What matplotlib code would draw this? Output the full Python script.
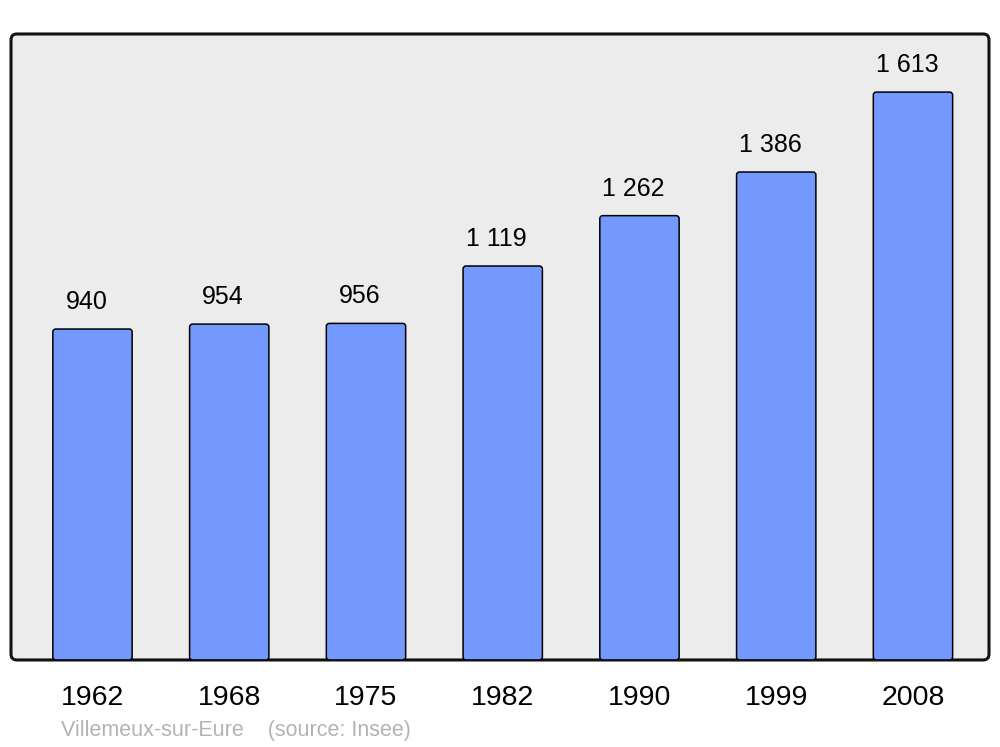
import matplotlib
matplotlib.use("Agg")
import matplotlib.pyplot as plt
from matplotlib.patches import FancyBboxPatch

years = ["1962", "1968", "1975", "1982", "1990", "1999", "2008"]
population = [940, 954, 956, 1119, 1262, 1386, 1613]
value_labels = ["940", "954", "956", "1 119", "1 262", "1 386", "1 613"]
caption = "Villemeux-sur-Eure    (source: Insee)"

plt.rcParams['font.family'] = ['Liberation Sans', 'DejaVu Sans']

fig = plt.figure(figsize=(10, 7.47), dpi=100)
ax = fig.add_axes([0.011, 0.1165, 0.978, 0.838])
ax.patch.set_visible(False)
for s in ax.spines.values():
    s.set_visible(False)

xs = list(range(len(years)))
XL, XR = -0.596, 6.556
ax.set_xlim(XL, XR)
ax.set_ylim(0, 1778)

frame = FancyBboxPatch((0, 0), 1, 1, boxstyle="round,pad=0,rounding_size=0.006",
                       mutation_aspect=978 / 626,
                       transform=ax.transAxes, facecolor='#ececec',
                       edgecolor='#111111', linewidth=2.2, zorder=0, clip_on=False)
ax.add_patch(frame)

bars = ax.bar(xs, population, width=0.58, color='#7399ff', edgecolor='black', linewidth=1.1)
# replace bars with rounded versions
px_x = 978 / (XR - XL)
px_y = 626 / 1778
r_px = 3.0
for b in bars:
    x0, y0, w, h = b.get_x(), b.get_y(), b.get_width(), b.get_height()
    b.set_visible(False)
    p = FancyBboxPatch((x0, y0), w, h,
                       boxstyle=f"round,pad=0,rounding_size={r_px / px_x}",
                       mutation_aspect=px_x / px_y,
                       facecolor='#7399ff', edgecolor='black', linewidth=1.1, zorder=2)
    ax.add_patch(p)

for x, v, lab in zip(xs, population, value_labels):
    ax.annotate(lab, (x, v), xytext=(-6, 27), textcoords='offset pixels',
                ha='center', va='center', fontsize=18, color='black')

ax.set_xticks(xs)
ax.set_xticklabels(years, fontsize=20.5)
ax.tick_params(axis='x', length=0, pad=18)
ax.set_yticks([])

fig.text(0.061, 0.0225, caption, fontsize=15.5, color='#b3b3b3', ha='left', va='center')

fig.savefig("out.png", dpi=100)
